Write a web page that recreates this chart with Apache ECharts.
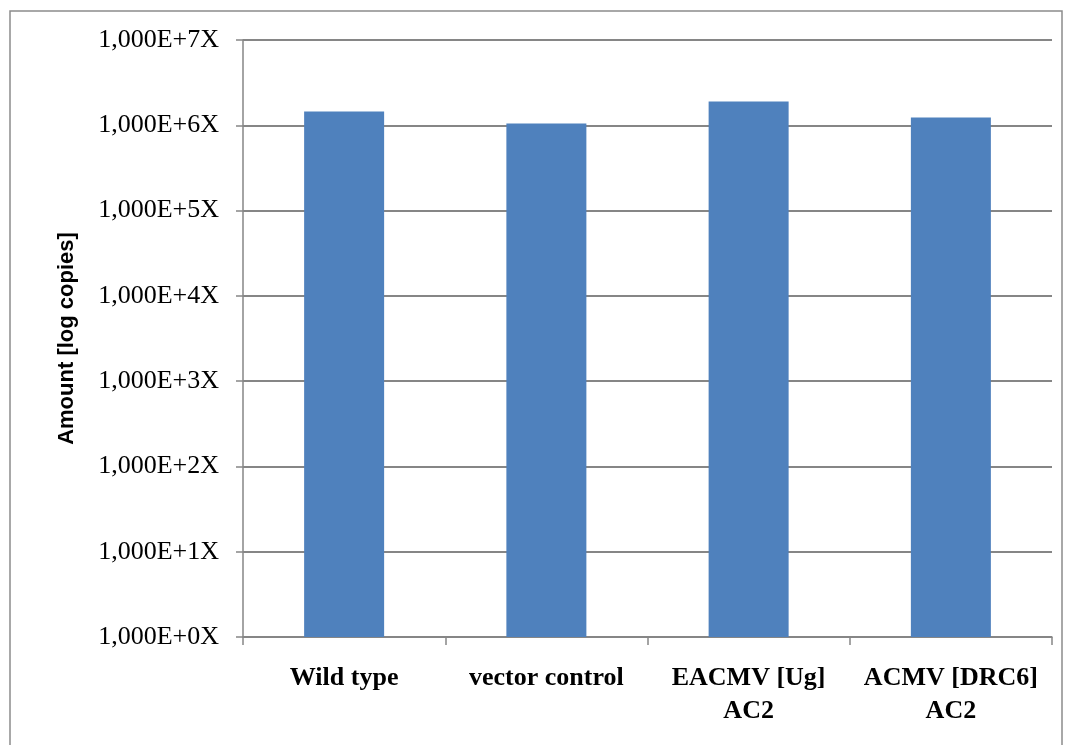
<!DOCTYPE html>
<html>
<head>
<meta charset="utf-8">
<script src="https://cdn.jsdelivr.net/npm/echarts@6/dist/echarts.min.js"></script>
<style>
  html, body { margin: 0; padding: 0; background: #fff; }
  #chart { width: 1065px; height: 745px; }
</style>
</head>
<body>
<div id="chart"></div>
<script>
// Categories (x axis) and measured amounts (copies, log scale)
const categories = ['Wild type', 'vector control', 'EACMV [Ug]\nAC2', 'ACMV [DRC6]\nAC2'];
const amounts = [1.45e6, 1.05e6, 1.9e6, 1.23e6];
const yAxisTitle = 'Amount [log copies]';

// Tick label text: "1,000E+nX" for each power of ten
function tickLabel(v) {
  const exp = Math.round(Math.log10(v));
  return '1,000E+' + exp + 'X';
}

const chart = echarts.init(document.getElementById('chart'));
chart.setOption({
  animation: false,
  backgroundColor: '#ffffff',
  graphic: [{
    type: 'rect',
    shape: { x: 10, y: 11, width: 1052, height: 760 },
    style: { fill: 'none', stroke: '#8c8c8c', lineWidth: 1.5 },
    silent: true
  }],
  grid: { left: 243, right: 13, top: 40, bottom: 108 },
  xAxis: {
    type: 'category',
    data: categories,
    axisLine: { show: true, lineStyle: { color: '#868686', width: 1.5 } },
    axisTick: { show: true, length: 8, alignWithLabel: false, lineStyle: { color: '#868686', width: 1.5 } },
    axisLabel: {
      interval: 0,
      margin: 25,
      color: '#000',
      fontFamily: 'Liberation Serif',
      fontWeight: 'bold',
      fontSize: 26,
      lineHeight: 33
    }
  },
  yAxis: {
    type: 'log',
    logBase: 10,
    min: 1,
    max: 1e7,
    name: yAxisTitle,
    nameLocation: 'middle',
    nameGap: 165,
    nameRotate: 90,
    nameTextStyle: {
      color: '#000',
      fontFamily: 'Liberation Sans',
      fontWeight: 'bold',
      fontSize: 22
    },
    axisLine: { show: true, lineStyle: { color: '#868686', width: 1.5 } },
    axisTick: { show: true, length: 7, lineStyle: { color: '#868686', width: 1.5 } },
    splitLine: { show: true, lineStyle: { color: '#868686', width: 2 } },
    axisLabel: {
      margin: 24,
      color: '#000',
      fontFamily: 'Liberation Serif',
      fontSize: 26,
      formatter: tickLabel
    }
  },
  series: [{
    type: 'bar',
    data: amounts,
    barWidth: 80,
    itemStyle: { color: '#4F81BD' }
  }]
});
</script>
</body>
</html>
